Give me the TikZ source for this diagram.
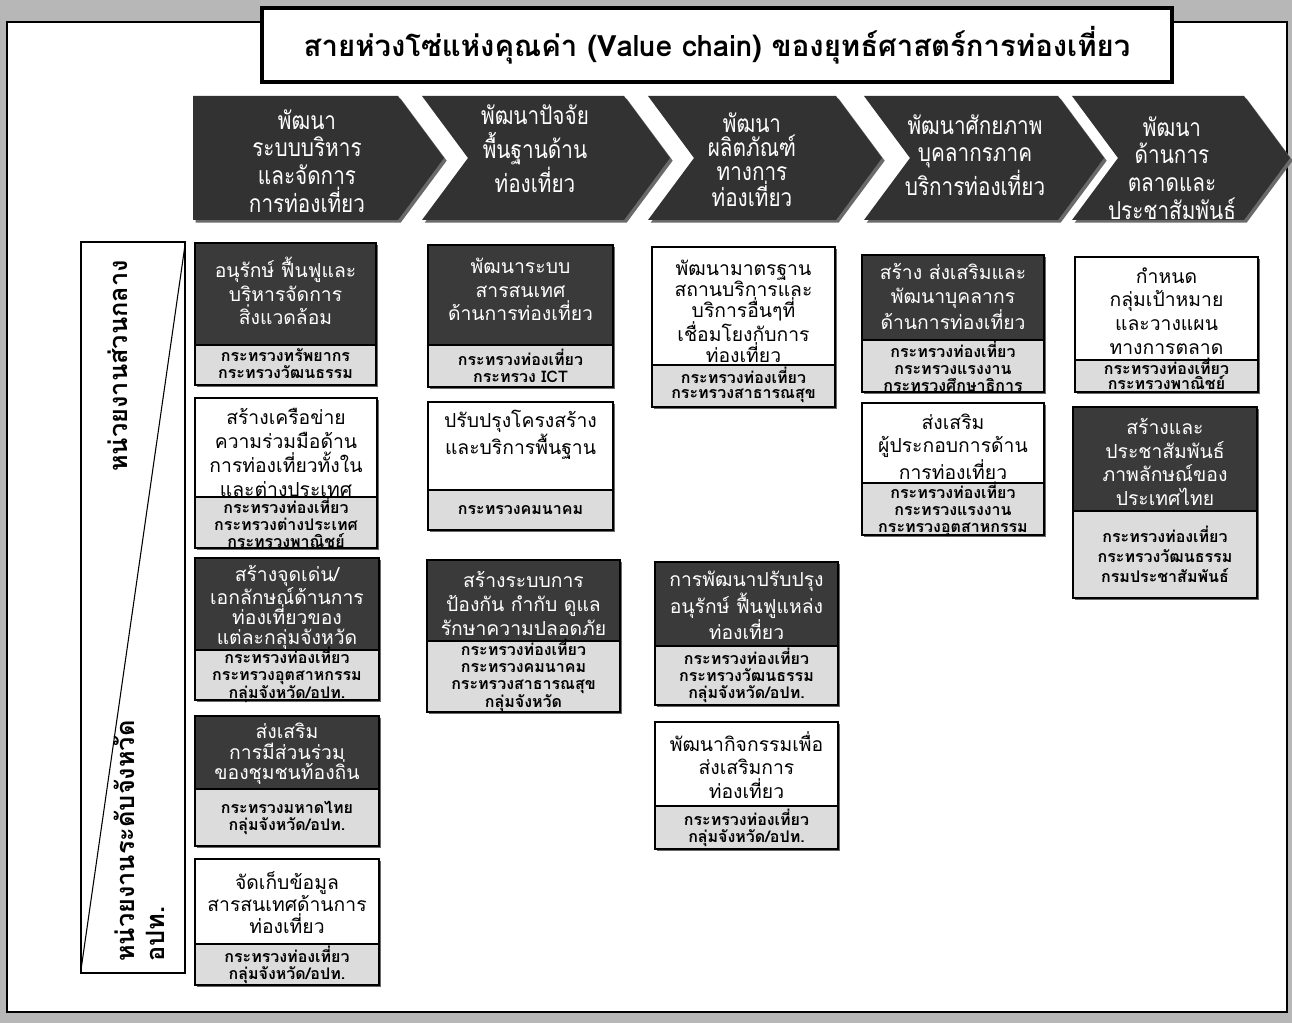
\documentclass[tikz,border=0pt]{standalone}
\usepackage{fontspec}
\setmainfont{Loma}[Script=Thai]
\newfontfamily\chevfont{Loma}[Script=Thai, FakeStretch=0.84]
\usetikzlibrary{fit,shadows}
\definecolor{bggray}{HTML}{B7B7B7}
\definecolor{chevdark}{HTML}{323232}
\definecolor{boxdark}{HTML}{3A3A3A}
\definecolor{boxgray}{HTML}{DCDCDC}
\definecolor{shadowgray}{HTML}{6A6A6A}
\tikzset{
  shad/.style={drop shadow={shadow xshift=1.6pt, shadow yshift=-1.6pt, fill=shadowgray, opacity=1}},
  boxbase/.style={draw=black, line width=0.8pt, inner sep=0pt, outer sep=0pt, shad},
  darkshape/.style={boxbase, fill=boxdark},
  whiteshape/.style={boxbase, fill=white},
  minbox/.style={boxbase, fill=boxgray},
  darktext/.style={text=white, align=center, inner sep=0pt, font={\fontsize{14.5}{17.8}\selectfont}},
  whitetext/.style={text=black, align=center, inner sep=0pt, font={\fontsize{14.5}{17.8}\selectfont}},
  mintext/.style={text=black, align=center, inner sep=0pt, font={\fontsize{12}{12.8}\selectfont\bfseries}},
  chev/.style={fill=chevdark, drop shadow={shadow xshift=2pt, shadow yshift=-2pt, fill=shadowgray, opacity=1}},
  chevtext/.style={text=white, align=center, inner sep=0pt},
  vlabel/.style={font={\fontsize{19}{22}\selectfont\bfseries}, align=left, inner sep=0pt, rotate=90},
}
% name, x1, x2, y1, ymid, y2, kind (dark/white), upper text, lower text
\newcommand\vcb[9]{%
  \node[#7shape, fit={(#2,#4)(#3,#5)}] (#1) {};
  \node[minbox, fit={(#2,#5)(#3,#6)}] (#1m) {};
  \node[#7text, #1txt/.try] (#1x) at (#1.center) {#8};
  \node[mintext, #1min/.try] (#1y) at (#1m.center) {#9};}
\tikzset{
  B1txt/.style={yshift=2.25pt},
  B2txt/.style={yshift=-3.75pt},
  B3txt/.style={font={\fontsize{14.5}{15}\selectfont}, yshift=-2.6pt},
  B4txt/.style={font={\fontsize{14.5}{15.5}\selectfont}, yshift=-1.1pt},
  B5txt/.style={font={\fontsize{14.5}{16.5}\selectfont}, yshift=-0.75pt},
  C1txt/.style={yshift=4.1pt},
  C2txt/.style={yshift=8.25pt},
  C3txt/.style={yshift=-2.25pt},
  D1txt/.style={font={\fontsize{14.5}{15.5}\selectfont}, yshift=-4.1pt},
  D2txt/.style={yshift=-1.1pt},
  D3txt/.style={yshift=-0.75pt},
  E1txt/.style={yshift=0.75pt},
  E2txt/.style={yshift=-2.6pt},
  F1txt/.style={yshift=-1.9pt},
  F2txt/.style={yshift=-2.25pt},
  B1min/.style={yshift=1pt},
  C3min/.style={yshift=0.75pt},
  D1min/.style={font={\fontsize{12}{11.5}\selectfont\bfseries}, yshift=0.75pt},
  F1min/.style={font={\fontsize{12}{11.5}\selectfont\bfseries}, yshift=1.5pt},
  F2min/.style={font={\fontsize{12}{15.2}\selectfont\bfseries}},
}
\begin{document}
\begin{tikzpicture}[x=0.75pt, y=-0.75pt]
\useasboundingbox (0,0) rectangle (1292,1023);
% page background and frame
\fill[bggray] (0,0) rectangle (1292,1023);
\draw[fill=white, line width=1pt] (7,22) rectangle (1287,1012);
% title
\node[draw=black, fill=white, line width=3pt, inner sep=0pt, fit={(262,8)(1172,82)}] (title) {};
\node[font={\fontsize{22}{26}\selectfont\bfseries}, inner sep=0pt] (titletext) at (title.center)
  {สายห่วงโซ่แห่งคุณค่า (Value chain) ของยุทธ์ศาสตร์การท่องเที่ยว};
% chevrons
\path[chev] (193,96) -- (398,96) -- (444,158) -- (398,220) -- (193,220) -- cycle;
\path[chev] (422,96) -- (624,96) -- (670,158) -- (624,220) -- (422,220) -- (468,158) -- cycle;
\path[chev] (648,96) -- (836,96) -- (882,158) -- (836,220) -- (648,220) -- (694,158) -- cycle;
\path[chev] (864,96) -- (1058,96) -- (1104,158) -- (1058,220) -- (864,220) -- (910,158) -- cycle;
\path[chev] (1072,96) -- (1244,96) -- (1290,158) -- (1244,220) -- (1072,220) -- (1118,158) -- cycle;
\node[chevtext, font={\fontsize{18.5}{20.8}\selectfont\chevfont}] (h1) at (307,161) {พัฒนา\\ระบบบริหาร\\และจัดการ\\การท่องเที่ยว};
\node[chevtext, font={\fontsize{18.5}{25.5}\selectfont\chevfont}] (h2) at (535,149) {พัฒนาปัจจัย\\พื้นฐานด้าน\\ท่องเที่ยว};
\node[chevtext, font={\fontsize{18.5}{17.8}\selectfont\chevfont}] (h3) at (752,160) {พัฒนา\\ผลิตภัณฑ์\\ทางการ\\ท่องเที่ยว};
\node[chevtext, font={\fontsize{18.5}{20.6}\selectfont\chevfont}] (h4) at (975,155) {พัฒนาศักยภาพ\\บุคลากรภาค\\บริการท่องเที่ยว};
\node[chevtext, font={\fontsize{18.5}{20.8}\selectfont\chevfont}] (h5) at (1172,168) {พัฒนา\\ด้านการ\\ตลาดและ\\ประชาสัมพันธ์};
% left panel
\node[draw=black, line width=0.8pt, fill=white, inner sep=0pt, fit={(81,242)(185,973)}] (panel) {};
\draw[line width=0.8pt] (panel.north east) -- (panel.south west);
\node[vlabel] (lab1) at (118,366) {หน่วยงานส่วนกลาง};
\node[vlabel, anchor=north west] (lab2) at (114,962) {หน่วยงานระดับจังหวัด\\อปท.};
% column 1
\vcb{B1}{195}{376}{243}{345}{385}{dark}{อนุรักษ์ ฟื้นฟูและ\\บริหารจัดการ\\สิ่งแวดล้อม}{กระทรวงทรัพยากร\\กระทรวงวัฒนธรรม}
\vcb{B2}{195}{377}{398}{497}{548}{white}{สร้างเครือข่าย\\ความร่วมมือด้าน\\การท่องเที่ยวทั้งใน\\และต่างประเทศ}{กระทรวงท่องเที่ยว\\กระทรวงต่างประเทศ\\กระทรวงพาณิชย์}
\vcb{B3}{195}{379}{558}{650}{700}{dark}{สร้างจุดเด่น/\\เอกลักษณ์ด้านการ\\ท่องเที่ยวของ\\แต่ละกลุ่มจังหวัด}{กระทรวงท่องเที่ยว\\กระทรวงอุตสาหกรรม\\กลุ่มจังหวัด/อปท.}
\vcb{B4}{195}{379}{716}{789}{846}{dark}{ส่งเสริม\\การมีส่วนร่วม\\ของชุมชนท้องถิ่น}{กระทรวงมหาดไทย\\กลุ่มจังหวัด/อปท.}
\vcb{B5}{195}{379}{859}{944}{985}{white}{จัดเก็บข้อมูล\\สารสนเทศด้านการ\\ท่องเที่ยว}{กระทรวงท่องเที่ยว\\กลุ่มจังหวัด/อปท.}
% column 2
\vcb{C1}{428}{613}{245}{345}{387}{dark}{พัฒนาระบบ\\สารสนเทศ\\ด้านการท่องเที่ยว}{กระทรวงท่องเที่ยว\\กระทรวง ICT}
\vcb{C2}{428}{613}{402}{490}{530}{white}{ปรับปรุงโครงสร้าง\\และบริการพื้นฐาน}{กระทรวงคมนาคม}
\vcb{C3}{427}{620}{560}{641}{712}{dark}{สร้างระบบการ\\ป้องกัน กำกับ ดูแล\\รักษาความปลอดภัย}{กระทรวงท่องเที่ยว\\กระทรวงคมนาคม\\กระทรวงสาธารณสุข\\กลุ่มจังหวัด}
% column 3
\vcb{D1}{652}{835}{247}{365}{407}{white}{พัฒนามาตรฐาน\\สถานบริการและ\\บริการอื่นๆที่\\เชื่อมโยงกับการ\\ท่องเที่ยว}{กระทรวงท่องเที่ยว\\กระทรวงสาธารณสุข}
\vcb{D2}{655}{838}{562}{646}{705}{dark}{การพัฒนาปรับปรุง\\อนุรักษ์ ฟื้นฟูแหล่ง\\ท่องเที่ยว}{กระทรวงท่องเที่ยว\\กระทรวงวัฒนธรรม\\กลุ่มจังหวัด/อปท.}
\vcb{D3}{655}{838}{722}{806}{849}{white}{พัฒนากิจกรรมเพื่อ\\ส่งเสริมการ\\ท่องเที่ยว}{กระทรวงท่องเที่ยว\\กลุ่มจังหวัด/อปท.}
% column 4
\vcb{E1}{862}{1044}{255}{340}{392}{dark}{สร้าง ส่งเสริมและ\\พัฒนาบุคลากร\\ด้านการท่องเที่ยว}{กระทรวงท่องเที่ยว\\กระทรวงแรงงาน\\กระทรวงศึกษาธิการ}
\vcb{E2}{862}{1044}{403}{483}{535}{white}{ส่งเสริม\\ผู้ประกอบการด้าน\\การท่องเที่ยว}{กระทรวงท่องเที่ยว\\กระทรวงแรงงาน\\กระทรวงอุตสาหกรรม}
% column 5
\vcb{F1}{1075}{1258}{257}{360}{392}{white}{กำหนด\\กลุ่มเป้าหมาย\\และวางแผน\\ทางการตลาด}{กระทรวงท่องเที่ยว\\กระทรวงพาณิชย์}
\vcb{F2}{1073}{1257}{407}{511}{598}{dark}{สร้างและ\\ประชาสัมพันธ์\\ภาพลักษณ์ของ\\ประเทศไทย}{กระทรวงท่องเที่ยว\\กระทรวงวัฒนธรรม\\กรมประชาสัมพันธ์}
\end{tikzpicture}
\end{document}
